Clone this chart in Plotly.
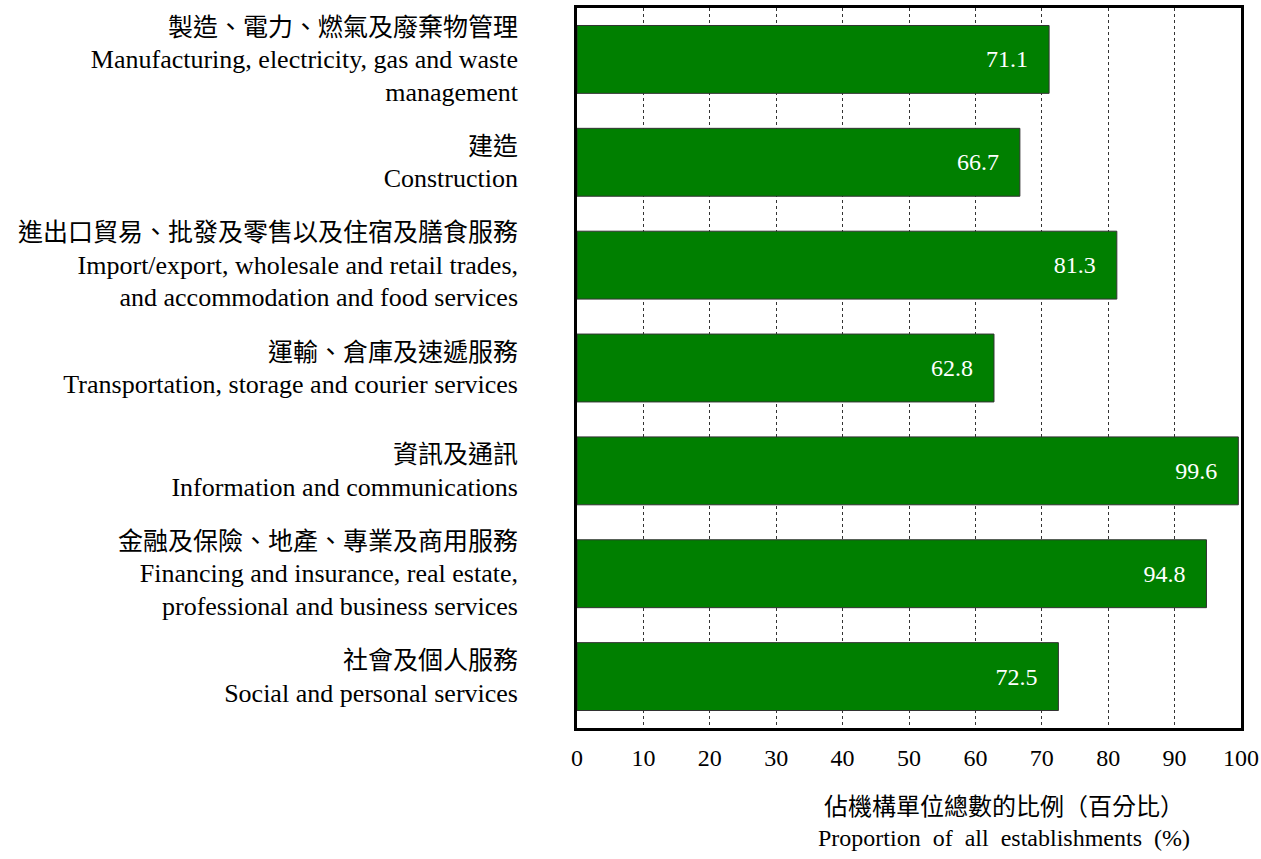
import plotly.graph_objects as go

categories_zh = [
    "製造、電力、燃氣及廢棄物管理",
    "建造",
    "進出口貿易、批發及零售以及住宿及膳食服務",
    "運輸、倉庫及速遞服務",
    "資訊及通訊",
    "金融及保險、地產、專業及商用服務",
    "社會及個人服務",
]
categories_en = [
    ["Manufacturing, electricity, gas and waste", "management"],
    ["Construction"],
    ["Import/export, wholesale and retail trades,", "and accommodation and food services"],
    ["Transportation, storage and courier services"],
    ["Information and communications"],
    ["Financing and insurance, real estate,", "professional and business services"],
    ["Social and personal services"],
]
values = [71.1, 66.7, 81.3, 62.8, 99.6, 94.8, 72.5]
x_ticks = [0, 10, 20, 30, 40, 50, 60, 70, 80, 90, 100]


def en_span(line):
    return f'<span style="font-size:26px">{line}</span>'


labels = [
    zh + "<br>" + "<br>".join(en_span(l) for l in en)
    for zh, en in zip(categories_zh, categories_en)
]

FONT = "Liberation Serif, Times New Roman, Noto Sans CJK TC, serif"

fig = go.Figure(
    go.Bar(
        y=labels,
        x=values,
        orientation="h",
        width=0.66,
        marker=dict(color="#007F00", line=dict(color="#333333", width=1)),
        text=[f"{v:.1f}\u00a0\u00a0\u00a0" for v in values],
        textposition="inside",
        insidetextanchor="end",
        textfont=dict(color="white", size=24, family=FONT),
        hoverinfo="skip",
    )
)

fig.update_layout(
    width=1261,
    height=859,
    margin=dict(l=577, r=20, t=8, b=131, autoexpand=False),
    paper_bgcolor="white",
    plot_bgcolor="white",
    font=dict(family=FONT, size=25, color="black"),
    showlegend=False,
    bargap=0.34,
)

fig.update_xaxes(
    range=[0, 100],
    tickvals=x_ticks,
    ticktext=[str(t) for t in x_ticks],
    tickfont=dict(size=24, family=FONT, color="black"),
    showgrid=True,
    gridcolor="#333333",
    gridwidth=1,
    griddash="3px,3px",
    showline=True,
    linecolor="black",
    linewidth=3,
    mirror=True,
    ticks="",
    ticklabelstandoff=6,
    ticklabeloverflow="allow",
    automargin=False,
    zeroline=False,
)

fig.update_yaxes(
    autorange="reversed",
    tickfont=dict(size=25, family=FONT, color="black"),
    showline=True,
    linecolor="black",
    linewidth=3,
    mirror=True,
    ticks="",
    ticklabelstandoff=51,
    automargin=False,
    showgrid=False,
)

fig.add_annotation(
    xref="paper", yref="paper",
    x=(1004 - 577) / (1241 - 577), y=0,
    yshift=-64,
    xanchor="center", yanchor="top",
    text="佔機構單位總數的比例（百分比）<br>Proportion  of  all  establishments  (%)",
    showarrow=False,
    font=dict(family=FONT, size=24, color="black"),
    align="center",
)

fig.write_html(
    "out.html",
    config={"displayModeBar": False},
    post_script="document.body.style.margin='0';document.body.style.padding='0';",
)
